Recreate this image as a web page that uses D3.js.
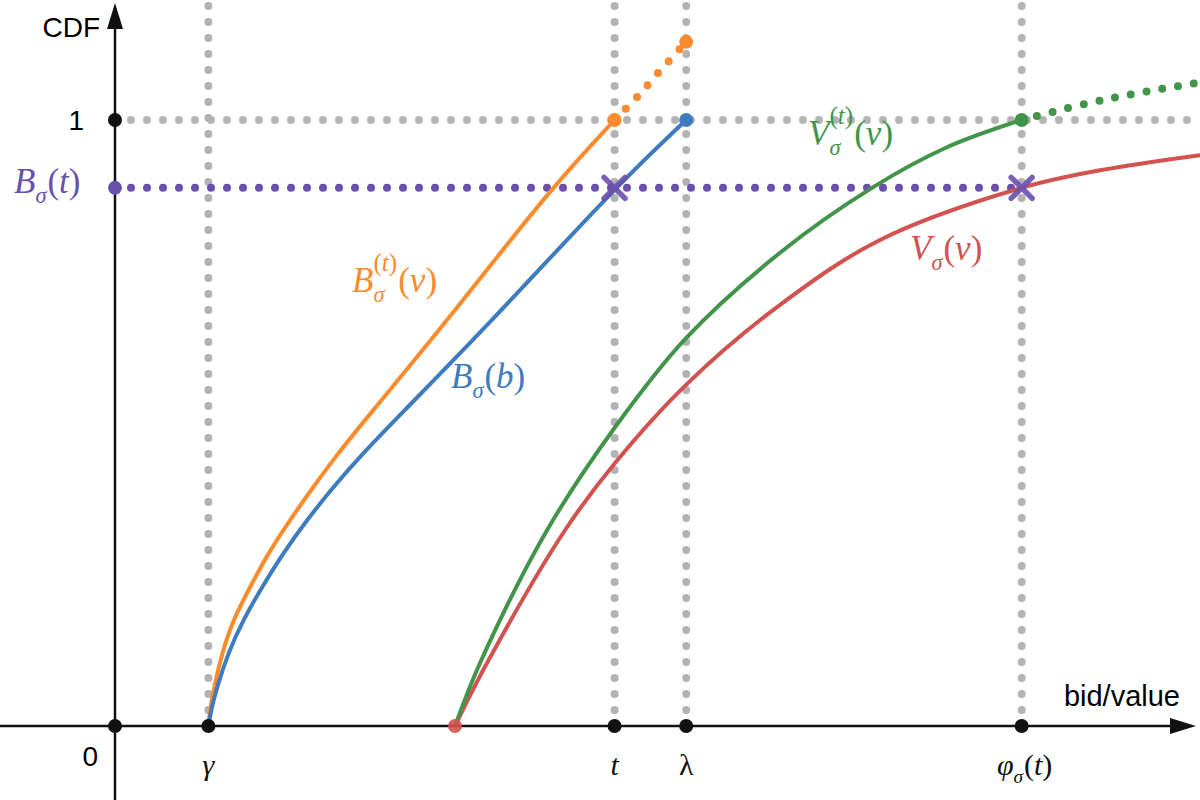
<!DOCTYPE html>
<html>
<head>
<meta charset="utf-8">
<script src="https://cdn.jsdelivr.net/npm/d3@7"></script>
<style>
  html, body { margin: 0; padding: 0; background: #fff; }
  svg { display: block; }
</style>
</head>
<body>
<div id="chart"></div>
<script>
// points (x = bid/value, y = CDF)
var orangeX = [1.03, 1.048, 1.092, 1.180, 1.301, 1.489, 1.688, 1.930, 2.184, 2.460, 2.757, 3.673, 4.798, 5.51];
var orangeY = [0, 0.026, 0.064, 0.120, 0.175, 0.229, 0.285, 0.340, 0.394, 0.450, 0.505, 0.670, 0.886, 1.0];
var orangeExtX = [5.51, 5.77, 6.01, 6.30];
var orangeExtY = [1.0, 1.040, 1.081, 1.129];
var blueX = [1.03, 1.059, 1.125, 1.246, 1.412, 1.621, 1.853, 2.118, 2.404, 2.735, 3.088, 4.169, 5.51, 6.30];
var blueY = [0, 0.026, 0.064, 0.120, 0.175, 0.229, 0.285, 0.340, 0.394, 0.450, 0.505, 0.670, 0.888, 1.0];
var greenX = [3.75, 4.026, 4.765, 5.515, 6.298, 7.335, 8.349, 9.176, 10.0];
var greenY = [0, 0.104, 0.323, 0.493, 0.640, 0.781, 0.888, 0.955, 1.0];
var greenExtX = [10.0, 10.89, 11.97];
var greenExtY = [1.0, 1.033, 1.062];
var redX = [3.75, 4.103, 4.963, 5.515, 6.298, 7.335, 8.438, 10.0, 10.864, 11.967];
var redY = [0, 0.104, 0.323, 0.434, 0.563, 0.695, 0.802, 0.888, 0.917, 0.942];

var xMarkValues = [1.03, 5.51, 6.30, 10.0];   // gamma, t, lambda, phi(t)
var yMarkValues = [0, 1];
var bAtT = 0.888;                              // B_sigma(t)
var redStart = 3.75;

var width = 1200, height = 800;
var colors = {
    orange: '#fb8b2c', blue: '#3e7bbf', green: '#43944b',
    red: '#d2524f', purple: '#6a4fad', gray: '#b3b3b3'
};

var svg = d3.select('#chart').append('svg')
    .attr('width', width).attr('height', height);

var x = d3.scaleLinear().domain([0, 12]).range([115, 1203]);
var y = d3.scaleLinear().domain([0, 1]).range([726, 120]);

var zip = function(xs, ys){
    return xs.map(function(v, i){ return [v, ys[i]]; });
};

// dense bid curves get smoothed, sparse value curves pass through their points
var lineBasis = d3.line()
    .x(function(d){ return x(d[0]); })
    .y(function(d){ return y(d[1]); })
    .curve(d3.curveBasis);
var lineSmooth = d3.line()
    .x(function(d){ return x(d[0]); })
    .y(function(d){ return y(d[1]); })
    .curve(d3.curveCatmullRom.alpha(0.5));

var straight = d3.line()
    .x(function(d){ return d[0]; })
    .y(function(d){ return d[1]; });

var dotted = function(sel, color){
    return sel.attr('fill', 'none').attr('stroke', color)
        .attr('stroke-width', 8).attr('stroke-linecap', 'round')
        .attr('stroke-dasharray', '0 16');
};

// gray guides
xMarkValues.forEach(function(v){
    svg.append('path').call(dotted, colors.gray)
        .attr('d', straight([[x(v), y(0)], [x(v), 5]]));
});
svg.append('path').call(dotted, colors.gray)
    .attr('d', straight([[x(0), y(1)], [width, y(1)]]));

// purple level B_sigma(t)
svg.append('path').call(dotted, colors.purple)
    .attr('d', straight([[x(0), y(bAtT)], [x(xMarkValues[3]), y(bAtT)]]));

// dotted extensions
svg.append('path').call(dotted, colors.orange).attr('d', lineSmooth(zip(orangeExtX, orangeExtY)));
svg.append('path').call(dotted, colors.green).attr('d', lineSmooth(zip(greenExtX, greenExtY)));

// curves
[[orangeX, orangeY, colors.orange, lineBasis], [blueX, blueY, colors.blue, lineBasis],
 [redX, redY, colors.red, lineSmooth], [greenX, greenY, colors.green, lineSmooth]].forEach(function(s){
    svg.append('path')
        .attr('d', s[3](zip(s[0], s[1])))
        .attr('fill', 'none').attr('stroke', s[2]).attr('stroke-width', 4);
});

// axes
var axis = svg.append('g').attr('stroke', '#111').attr('stroke-width', 2.5);
axis.append('line').attr('x1', 0).attr('x2', 1180).attr('y1', y(0)).attr('y2', y(0));
axis.append('line').attr('x1', x(0)).attr('x2', x(0)).attr('y1', height).attr('y2', 20);
svg.append('path').attr('fill', '#111')
    .attr('d', 'M1196,' + y(0) + 'L1170,' + (y(0) - 8) + 'L1170,' + (y(0) + 8) + 'Z');
svg.append('path').attr('fill', '#111')
    .attr('d', 'M' + x(0) + ',3L' + (x(0) - 8) + ',29L' + (x(0) + 8) + ',29Z');

// end points
var dot = function(cx, cy, color, op){
    svg.append('circle').attr('cx', cx).attr('cy', cy).attr('r', 7)
        .attr('fill', color).attr('fill-opacity', op || 1);
};
dot(x(orangeX[orangeX.length - 1]), y(1), colors.orange);
dot(x(orangeExtX[orangeExtX.length - 1]), y(orangeExtY[orangeExtY.length - 1]), colors.orange);
dot(x(blueX[blueX.length - 1]), y(1), colors.blue);
dot(x(greenX[greenX.length - 1]), y(1), colors.green);
dot(x(redStart), y(0), colors.red, 0.9);
dot(x(0), y(bAtT), colors.purple);
yMarkValues.forEach(function(v){ dot(x(0), y(v), '#111'); });
xMarkValues.forEach(function(v){ dot(x(v), y(0), '#111'); });

// crosses
[xMarkValues[1], xMarkValues[3]].forEach(function(v){
    var cx = x(v), cy = y(bAtT), s = 10.5;
    svg.append('path')
        .attr('d', 'M' + (cx - s) + ',' + (cy - s) + 'L' + (cx + s) + ',' + (cy + s) +
                   'M' + (cx - s) + ',' + (cy + s) + 'L' + (cx + s) + ',' + (cy - s))
        .attr('stroke', colors.purple).attr('stroke-width', 5.5).attr('stroke-opacity', 0.9)
        .attr('stroke-linecap', 'round');
});

// plain text labels
var sans = 'Liberation Sans, Arial, sans-serif';
svg.append('text').attr('x', 100).attr('y', 37).attr('text-anchor', 'end')
    .attr('font-family', sans).attr('font-size', 28).text('CDF');
svg.append('text').attr('x', 84).attr('y', y(1) + 10).attr('text-anchor', 'end')
    .attr('font-family', sans).attr('font-size', 28).text('1');
svg.append('text').attr('x', 98).attr('y', 766).attr('text-anchor', 'end')
    .attr('font-family', sans).attr('font-size', 28).text('0');
svg.append('text').attr('x', 1180).attr('y', 706).attr('text-anchor', 'end')
    .attr('font-family', sans).attr('font-size', 29).text('bid/value');

// math labels: parts are [text, kind, stacked]
var serif = 'Liberation Serif, Times New Roman, serif';
var mathLabel = function(x0, y0, color, parts, size, anchor){
    var g = svg.append('g').attr('fill', color).attr('font-family', serif);
    var cx = x0, lastStart = x0;
    parts.forEach(function(p){
        var kind = p[1];
        var fs = kind === 'main' ? size : kind === 'sup' ? size * 0.72 : size * 0.64;
        var dy = kind === 'sub' ? size * 0.28 : kind === 'sup' ? -size * 0.6 : 0;
        var px = p[2] ? lastStart : cx;
        var t = g.append('text').attr('x', px).attr('y', y0 + dy).attr('font-size', fs);
        p[0].split('').forEach(function(ch){
            t.append('tspan').text(ch)
                .attr('font-style', /[()λ]/.test(ch) ? 'normal' : 'italic');
        });
        var w = t.node().getComputedTextLength();
        lastStart = px;
        cx = Math.max(cx, px + w + (kind === 'main' ? 0 : 1));
    });
    if (anchor === 'middle') {
        g.attr('transform', 'translate(' + (-(cx - x0) / 2) + ',0)');
    }
    return g;
};

mathLabel(14, 193, colors.purple, [['B', 'main'], ['σ', 'sub'], ['(t)', 'main']], 35);
mathLabel(352, 292, colors.orange, [['B', 'main'], ['σ', 'sub'], ['(t)', 'sup', true], ['(v)', 'main']], 35);
mathLabel(451, 388, colors.blue, [['B', 'main'], ['σ', 'sub'], ['(b)', 'main']], 35);
mathLabel(808, 145, colors.green, [['V', 'main'], ['σ', 'sub'], ['(t)', 'sup', true], ['(v)', 'main']], 35);
mathLabel(910, 260, colors.red, [['V', 'main'], ['σ', 'sub'], ['(v)', 'main']], 35);

mathLabel(x(xMarkValues[0]), 775, '#111', [['γ', 'main']], 30, 'middle');
mathLabel(x(xMarkValues[1]), 775, '#111', [['t', 'main']], 30, 'middle');
mathLabel(x(xMarkValues[2]), 775, '#111', [['λ', 'main']], 30, 'middle');
mathLabel(x(xMarkValues[3]) + 3, 775, '#111', [['φ', 'main'], ['σ', 'sub'], ['(t)', 'main']], 30, 'middle');
</script>
</body>
</html>
